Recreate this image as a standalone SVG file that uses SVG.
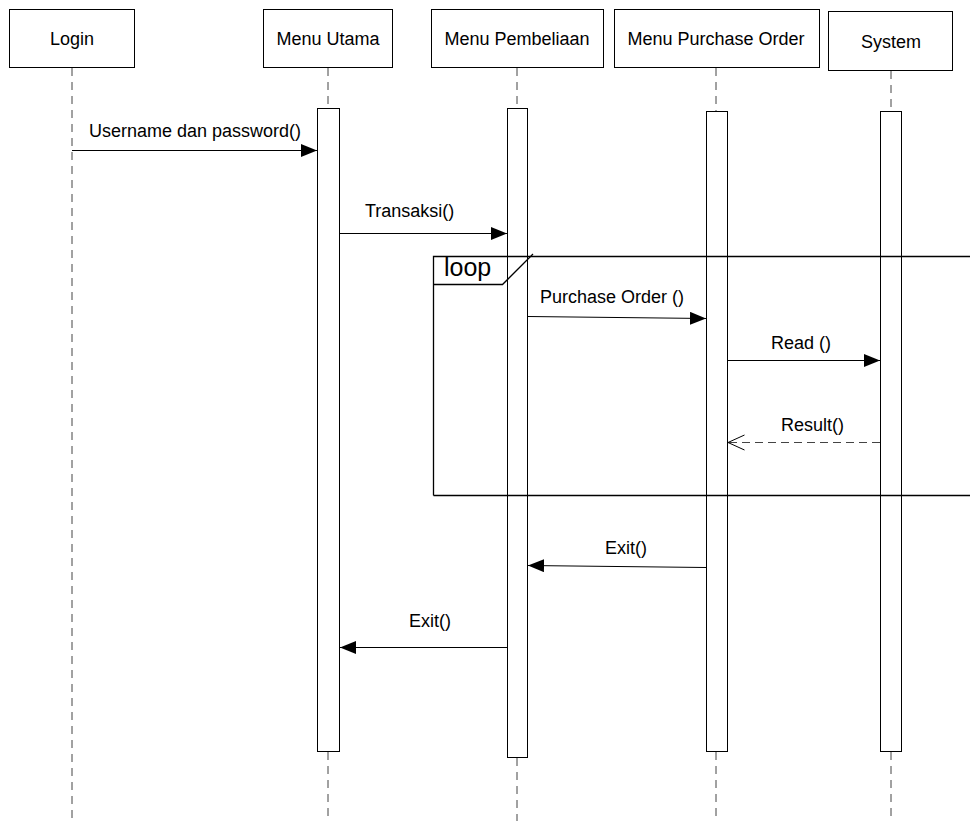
<svg xmlns="http://www.w3.org/2000/svg" width="970" height="821" viewBox="0 0 970 821">
<style>
text{font-family:"Liberation Sans",Arial,sans-serif;font-size:18px;fill:#000}
.box{fill:#fff;stroke:#000;stroke-width:1}
.life{stroke:#444;stroke-width:1;stroke-dasharray:8,6;fill:none}
.act{fill:#fff;stroke:#000;stroke-width:1}
.msg{stroke:#000;stroke-width:1;fill:none}
.ret{stroke:#444;stroke-width:1;stroke-dasharray:8,5;fill:none}
.c{text-anchor:middle}
</style>
<defs>
<marker id="fill" markerWidth="17" markerHeight="13" refX="16" refY="6.5" orient="auto" markerUnits="userSpaceOnUse">
<path d="M0,0 L16,6.5 L0,13 Z" fill="#000"/>
</marker>
<marker id="open" markerWidth="19" markerHeight="17" refX="17" refY="8" orient="auto" markerUnits="userSpaceOnUse">
<path d="M0.5,0.5 L17,8 L0.5,15.5" fill="none" stroke="#000" stroke-width="1"/>
</marker>
</defs>
<rect width="970" height="821" fill="#fff"/>

<g id="login">
<rect class="box" x="9.5" y="9.5" width="125" height="58"/>
<text class="c" x="72" y="45">Login</text>
<line class="life" x1="72" y1="68" x2="72" y2="821"/>
</g>
<g id="menu-utama">
<rect class="box" x="263.5" y="9.5" width="129" height="58"/>
<text class="c" x="328" y="45">Menu Utama</text>
<line class="life" x1="328" y1="68" x2="328" y2="108"/>
<rect class="act" x="317.5" y="108.5" width="22" height="643"/>
<line class="life" x1="328" y1="752" x2="328" y2="821"/>
</g>
<g id="menu-pembeliaan">
<rect class="box" x="431.5" y="9.5" width="172" height="58"/>
<text class="c" x="517" y="45">Menu Pembeliaan</text>
<line class="life" x1="517" y1="68" x2="517" y2="108"/>
<rect class="act" x="507.5" y="108.5" width="20" height="649"/>
<line class="life" x1="517" y1="758" x2="517" y2="821"/>
</g>
<g id="menu-purchase-order">
<rect class="box" x="614.5" y="9.5" width="205" height="58"/>
<text class="c" x="716" y="45">Menu Purchase Order</text>
<line class="life" x1="716" y1="68" x2="716" y2="111"/>
<rect class="act" x="706.5" y="111.5" width="21" height="640"/>
<line class="life" x1="716" y1="752" x2="716" y2="821"/>
</g>
<g id="system">
<rect class="box" x="828.5" y="11.5" width="124" height="59"/>
<text class="c" x="891" y="48">System</text>
<line class="life" x1="891" y1="71" x2="891" y2="111"/>
<rect class="act" x="880.5" y="111.5" width="21" height="640"/>
<line class="life" x1="891" y1="752" x2="891" y2="821"/>
</g>

<g id="loop-frame">
<path d="M433.5,495.5 L433.5,256.5 L972,256.5 M433.5,495.5 L972,495.5" fill="none" stroke="#000" stroke-width="1.3"/>
<path d="M433.5,284.5 L502.5,284.5 L533,254" fill="none" stroke="#000" stroke-width="1.3"/>
<text x="444" y="276" style="font-size:25px">loop</text>
</g>

<g id="connectors">
<line class="msg" x1="72" y1="150.5" x2="317" y2="150.5" marker-end="url(#fill)"/>
<text x="89" y="137">Username dan password()</text>
<line class="msg" x1="340" y1="233.5" x2="507" y2="233.5" marker-end="url(#fill)"/>
<text x="365" y="217">Transaksi()</text>
<line class="msg" x1="528" y1="316.5" x2="706" y2="318.5" marker-end="url(#fill)"/>
<text x="540" y="303">Purchase Order ()</text>
<line class="msg" x1="728" y1="360.5" x2="880" y2="360.5" marker-end="url(#fill)"/>
<text x="771" y="349">Read ()</text>
<line class="ret" x1="880" y1="442.5" x2="728" y2="442.5" marker-end="url(#open)"/>
<text x="781" y="431">Result()</text>
<line class="msg" x1="706" y1="567.5" x2="528" y2="565.5" marker-end="url(#fill)"/>
<text x="605" y="554">Exit()</text>
<line class="msg" x1="507" y1="647.5" x2="340" y2="647.5" marker-end="url(#fill)"/>
<text x="409" y="627">Exit()</text>
</g>
</svg>
